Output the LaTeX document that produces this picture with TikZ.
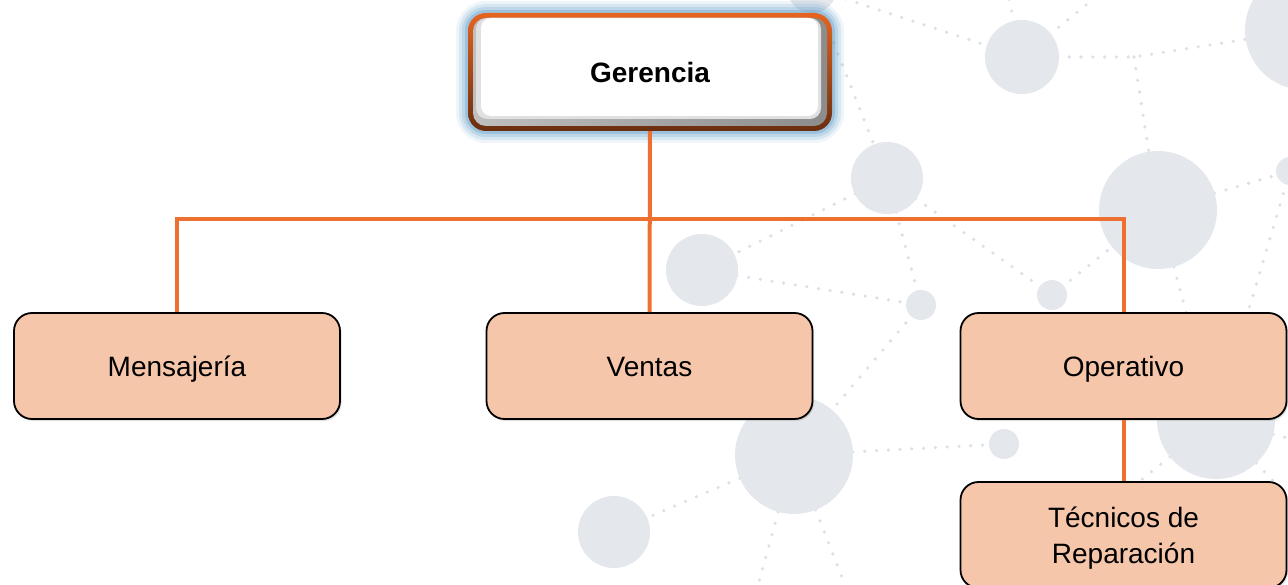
\documentclass[tikz,border=0pt]{standalone}
\usepackage{fontspec}
\setmainfont{Liberation Sans}
\usetikzlibrary{shadows}
\definecolor{peach}{HTML}{F5C6AA}
\definecolor{conn}{HTML}{ED7031}
\definecolor{circ}{HTML}{E4E7EC}
\definecolor{dotc}{HTML}{DCE0E6}
\definecolor{gorange}{HTML}{E5641F}
\definecolor{gbrown}{HTML}{6A2E0E}
\definecolor{glowc}{HTML}{5E9CC8}
\begin{document}
\begin{tikzpicture}[x=1pt,y=-1pt,
  bgc/.style={fill=circ},
  dots/.style={draw=dotc, line width=3.6pt, line cap=round, dash pattern=on 0pt off 11.8pt},
  sub/.style={draw=black, line width=1.8pt, fill=peach, rounded corners=18pt,
    minimum width=326pt, minimum height=106pt, inner sep=0pt,
    font=\fontsize{28}{36}\selectfont, align=center,
    drop shadow={opacity=0.25, shadow xshift=1.5pt, shadow yshift=-2pt}},
  oneline/.style={text height=21pt, text depth=0pt},
  topbox/.style={minimum width=364pt, minimum height=118pt, inner sep=0pt,
    text height=21pt, text depth=0pt,
    font=\bfseries\fontsize{28}{30}\selectfont},
  connector/.style={draw=conn, line width=4pt}]
\useasboundingbox (0,0) rectangle (1288,585);
\clip (0,0) rectangle (1288,585);
% background network
\coordinate (A) at (812,-12);
\coordinate (B) at (1022,57);
\coordinate (C) at (1305,30);
\coordinate (D) at (887,178);
\coordinate (E) at (1158,210);
\coordinate (F) at (1290,171);
\coordinate (G) at (702,270);
\coordinate (H) at (921,305);
\coordinate (I) at (1052,295);
\coordinate (J) at (794,455);
\coordinate (K) at (614,532);
\coordinate (L) at (1004,444);
\coordinate (M) at (1216,420);
\coordinate (Q) at (1134,57);
\draw[dots] (A) -- (B);
\draw[dots] (B) -- (1008,-5);
\draw[dots] (B) -- (1096,-3);
\draw[dots] (B) -- (Q) -- (C);
\draw[dots] (Q) -- (E);
\draw[dots] (A) -- (D);
\draw[dots] (D) -- (G);
\draw[dots] (D) -- (I);
\draw[dots] (D) -- (H);
\draw[dots] (I) -- (E);
\draw[dots] (E) -- (M);
\draw[dots] (E) -- (F);
\draw[dots] (F) -- (M);
\draw[dots] (G) -- (H);
\draw[dots] (H) -- (J);
\draw[dots] (J) -- (L);
\draw[dots] (J) -- (K);
\draw[dots] (J) -- (754,600);
\draw[dots] (J) -- (851,600);
\draw[dots] (M) -- (1110,505);
\draw[dots] (M) -- (1300,510);
\draw[dots] (M) -- (1300,441);
\fill[bgc] (A) circle (25);
\fill[bgc] (B) circle (37);
\fill[bgc] (C) circle (60);
\fill[bgc] (D) circle (36);
\fill[bgc] (E) circle (59);
\fill[bgc] (F) circle (14);
\fill[bgc] (G) circle (36);
\fill[bgc] (H) circle (15);
\fill[bgc] (I) circle (15);
\fill[bgc] (J) circle (59);
\fill[bgc] (K) circle (36);
\fill[bgc] (L) circle (15);
\fill[bgc] (M) circle (59);
% Gerencia box decoration
\foreach \w/\o in {24/0.10,18/0.16,12/0.22,6/0.35}
  \draw[glowc, line width=\w pt, opacity=\o, rounded corners=18pt] (468,13) rectangle (832,131);
\shade[top color=gorange, bottom color=gbrown, rounded corners=18pt] (468,13) rectangle (832,131);
\shade[left color=black!25, right color=black!45, rounded corners=13pt] (473,18) rectangle (827,126);
\fill[black!12, rounded corners=11pt] (476,18) rectangle (821,119);
\fill[white, rounded corners=10pt] (481,18) rectangle (818,116);
% nodes
\node[topbox] (ger) at (650,72) {Gerencia};
\node[sub, oneline] (men) at (177,366) {Mensajería};
\node[sub, oneline] (ven) at (649.5,366) {Ventas};
\node[sub, oneline] (ope) at (1123.5,366) {Operativo};
\node[sub, text depth=0pt] (tec) at (1123.5,535) {Técnicos de\\Reparación};
% connectors
\coordinate (bus) at (650,219);
\draw[connector] (ger.south) -- (ven.north);
\draw[connector] (men.north) |- (bus) -| (ope.north);
\draw[connector] (ope.south) -- (tec.north);
\end{tikzpicture}
\end{document}
